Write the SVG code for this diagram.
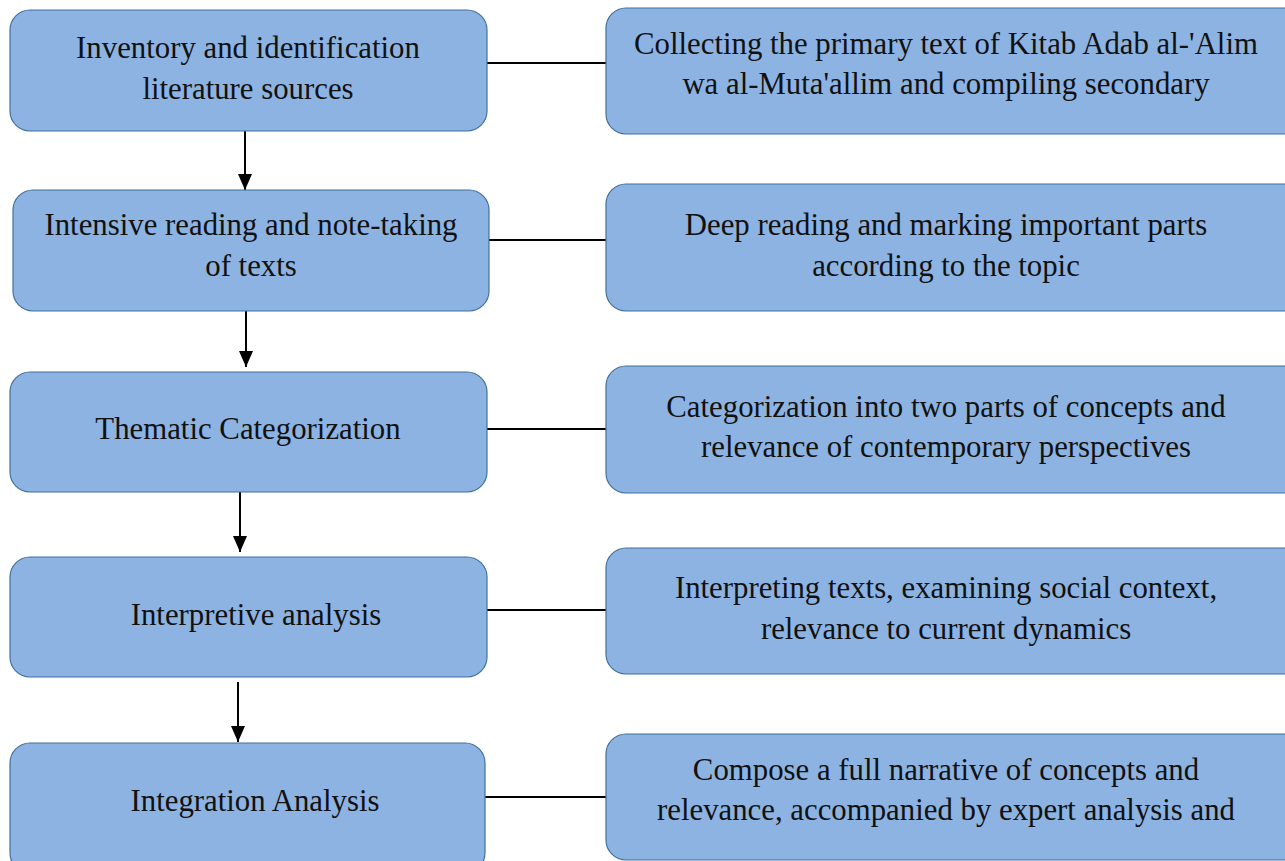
<svg xmlns="http://www.w3.org/2000/svg" width="1285" height="861" viewBox="0 0 1285 861">
<style>
.box{fill:#8DB3E2;stroke:#41719C;stroke-width:1.2}
.t{font-family:"Liberation Serif","DejaVu Serif",serif;font-size:30.8px;fill:#111;text-anchor:middle}
.c{stroke:#000;stroke-width:2;fill:none}
</style>
<defs>
<marker id="ah" markerWidth="16" markerHeight="14" refX="16" refY="7" orient="auto" markerUnits="userSpaceOnUse" viewBox="0 0 16 14">
<path d="M0,0 L16,7 L0,14 z" fill="#000"/>
</marker>
</defs>
<rect width="1285" height="861" fill="#fff"/>
<g id="connectors">
<line class="c" x1="487" y1="63" x2="606" y2="63"/>
<line class="c" x1="489" y1="240" x2="606" y2="240"/>
<line class="c" x1="487" y1="429" x2="606" y2="429"/>
<line class="c" x1="487" y1="610" x2="606" y2="610"/>
<line class="c" x1="485" y1="797" x2="606" y2="797"/>
<line class="c" x1="245" y1="131" x2="245" y2="190" marker-end="url(#ah)"/>
<line class="c" x1="246" y1="308" x2="246" y2="367" marker-end="url(#ah)"/>
<line class="c" x1="240" y1="492" x2="240" y2="552" marker-end="url(#ah)"/>
<line class="c" x1="238" y1="682" x2="238" y2="742" marker-end="url(#ah)"/>
</g>
<g id="n1"><rect class="box" x="10" y="10" width="477" height="121" rx="20"/>
<text class="t" x="248" y="58">Inventory and identification</text><text class="t" x="248" y="99">literature sources</text></g>
<g id="n2"><rect class="box" x="13" y="190" width="476" height="121" rx="20"/>
<text class="t" x="251" y="235">Intensive reading and note-taking</text><text class="t" x="251" y="276">of texts</text></g>
<g id="n3"><rect class="box" x="10" y="372" width="477" height="120" rx="20"/>
<text class="t" x="248" y="439">Thematic Categorization</text></g>
<g id="n4"><rect class="box" x="10" y="557" width="477" height="120" rx="20"/>
<text class="t" x="256" y="625">Interpretive analysis</text></g>
<g id="n5"><rect class="box" x="10" y="743" width="475" height="130" rx="20"/>
<text class="t" x="255" y="811">Integration Analysis</text></g>
<g id="r1"><rect class="box" x="606" y="8" width="700" height="126" rx="20"/>
<text class="t" x="946" y="54">Collecting the primary text of Kitab Adab al-'Alim</text><text class="t" x="946" y="94">wa al-Muta'allim and compiling secondary</text></g>
<g id="r2"><rect class="box" x="606" y="184" width="700" height="127" rx="20"/>
<text class="t" x="946" y="235">Deep reading and marking important parts</text><text class="t" x="946" y="276">according to the topic</text></g>
<g id="r3"><rect class="box" x="606" y="366" width="700" height="127" rx="20"/>
<text class="t" x="946" y="417">Categorization into two parts of concepts and</text><text class="t" x="946" y="457">relevance of contemporary perspectives</text></g>
<g id="r4"><rect class="box" x="606" y="548" width="700" height="126" rx="20"/>
<text class="t" x="946" y="598">Interpreting texts, examining social context,</text><text class="t" x="946" y="639">relevance to current dynamics</text></g>
<g id="r5"><rect class="box" x="606" y="734" width="700" height="126" rx="20"/>
<text class="t" x="946" y="780">Compose a full narrative of concepts and</text><text class="t" x="946" y="820">relevance, accompanied by expert analysis and</text></g>
</svg>
